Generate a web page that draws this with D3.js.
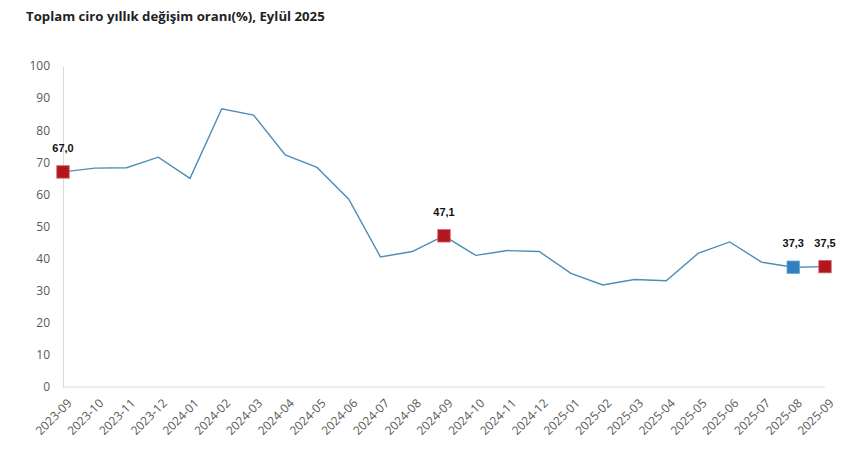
<!DOCTYPE html>
<html>
<head>
<meta charset="utf-8">
<script src="https://cdn.jsdelivr.net/npm/d3@7"></script>
<style>
  body { margin: 0; background: #ffffff; }
</style>
</head>
<body>
<div id="chart"></div>
<script>
// Toplam ciro yillik degisim orani, line chart with highlighted months

var months = ["2023-09", "2023-10", "2023-11", "2023-12", "2024-01", "2024-02", "2024-03",
    "2024-04", "2024-05", "2024-06", "2024-07", "2024-08", "2024-09", "2024-10", "2024-11",
    "2024-12", "2025-01", "2025-02", "2025-03", "2025-04", "2025-05", "2025-06", "2025-07",
    "2025-08", "2025-09"];

var values = [67.0, 68.2, 68.3, 71.6, 65.0, 86.7, 84.7, 72.3, 68.4, 58.5, 40.5, 42.2, 47.1,
    41.0, 42.5, 42.2, 35.4, 31.8, 33.5, 33.1, 41.6, 45.2, 38.9, 37.3, 37.5];

var yTicks = [0, 10, 20, 30, 40, 50, 60, 70, 80, 90, 100];

// highlighted points: month + marker kind
var highlights = [
    { month: "2023-09", kind: "red" },
    { month: "2024-09", kind: "red" },
    { month: "2025-08", kind: "blue" },
    { month: "2025-09", kind: "red" }
];

(function() {

    var width = 868;
    var height = 475;
    var margin = { left: 63, right: 43, top: 66, bottom: 88 };

    var svg = d3.select("#chart")
        .append("svg")
        .attr("width", width)
        .attr("height", height);

    svg.append("rect")
        .attr("width", width)
        .attr("height", height)
        .attr("fill", "#ffffff");

    // Title
    svg.append("text")
        .attr("x", 26)
        .attr("y", 21)
        .attr("fill", "#222222")
        .attr("font-family", "'Open Sans', sans-serif")
        .attr("font-size", "13.2px")
        .attr("font-weight", "bold")
        .text("Toplam ciro yıllık değişim oranı(%), Eylül 2025");

    var x = d3.scalePoint()
        .domain(months)
        .range([margin.left, width - margin.right]);

    var y = d3.scaleLinear()
        .domain([0, 100])
        .range([height - margin.bottom, margin.top]);

    // Y axis
    var yAxis = svg.append("g")
        .attr("transform", "translate(" + margin.left + ",0)")
        .call(d3.axisLeft(y).tickValues(yTicks).tickSize(0).tickPadding(13));

    yAxis.select(".domain").attr("stroke", "#d9d9d9");
    yAxis.selectAll("text")
        .attr("fill", "#595959")
        .attr("font-family", "'Open Sans', sans-serif")
        .attr("font-size", "12px");

    // X axis
    var xAxis = svg.append("g")
        .attr("transform", "translate(0," + y(0) + ")")
        .call(d3.axisBottom(x).tickSize(0).tickPadding(0));

    xAxis.select(".domain")
        .attr("stroke", "#d9d9d9")
        .attr("d", "M" + margin.left + ",0H" + (width - margin.right));

    xAxis.selectAll("text")
        .attr("fill", "#595959")
        .attr("font-family", "'Open Sans', sans-serif")
        .attr("font-size", "12px")
        .attr("text-anchor", "end")
        .attr("dy", null)
        .attr("transform", "translate(9,17) rotate(-45)");

    // Line
    var line = d3.line()
        .x(function(d, i) {
            return x(months[i]);
        })
        .y(function(d) {
            return y(d);
        });

    svg.append("path")
        .datum(values)
        .attr("fill", "none")
        .attr("stroke", "#4f8db5")
        .attr("stroke-width", 1.4)
        .attr("d", line);

    // Markers and labels
    var size = 12.5;

    var marks = svg.selectAll(".mark")
        .data(highlights)
        .enter()
        .append("g")
        .attr("class", "mark")
        .attr("transform", function(d) {
            var v = values[months.indexOf(d.month)];
            return "translate(" + x(d.month) + "," + y(v) + ")";
        });

    marks.append("rect")
        .attr("x", -size / 2)
        .attr("y", -size / 2)
        .attr("width", size)
        .attr("height", size)
        .attr("fill", function(d) {
            if (d.kind === "blue") {
                return "#2f7fc1";
            }
            return "#b3161e";
        })
        .attr("stroke", function(d) {
            if (d.kind === "blue") {
                return "#6aa6d6";
            }
            return "#d86a6e";
        })
        .attr("stroke-width", 0.8);

    marks.append("text")
        .attr("x", 0)
        .attr("y", -20)
        .attr("text-anchor", "middle")
        .attr("fill", "#111111")
        .attr("font-family", "'Liberation Sans', Arial, sans-serif")
        .attr("font-size", "11px")
        .attr("font-weight", "bold")
        .text(function(d) {
            var v = values[months.indexOf(d.month)];
            return v.toFixed(1).replace(".", ",");
        });

})();
</script>
</body>
</html>
